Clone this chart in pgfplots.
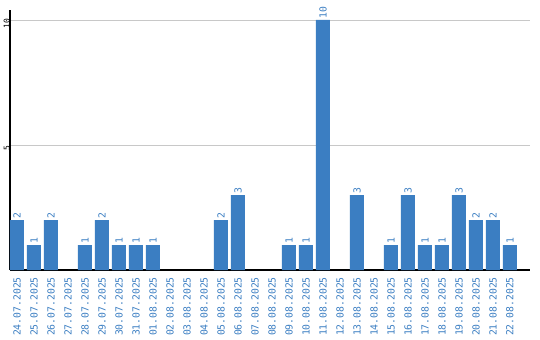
\documentclass[border=0pt]{standalone}
\usepackage{fontspec}
\setmainfont{DejaVu Sans Mono}
\usepackage{pgfplots}
\pgfplotsset{compat=1.18}
\definecolor{barblue}{RGB}{59,126,194}
\definecolor{gridgray}{RGB}{200,200,200}
\begin{document}
\begin{tikzpicture}
\path[use as bounding box] (-10bp,-70bp) rectangle (530bp,270bp);
\begin{axis}[
  at={(0,0)}, anchor=south west,
  scale only axis, width=520bp, height=260bp,
  xmin=-0.41, xmax=30.18, ymin=0, ymax=10.4,
  /pgf/number format/assume math mode=true,
  axis x line*=bottom, axis y line*=left,
  axis line style={black, line width=1.2pt, -},
  ybar, bar width=14bp, bar shift=0pt,
  xtick={0,...,29},
  xticklabels={24.07.2025,25.07.2025,26.07.2025,27.07.2025,28.07.2025,29.07.2025,30.07.2025,31.07.2025,01.08.2025,02.08.2025,03.08.2025,04.08.2025,05.08.2025,06.08.2025,07.08.2025,08.08.2025,09.08.2025,10.08.2025,11.08.2025,12.08.2025,13.08.2025,14.08.2025,15.08.2025,16.08.2025,17.08.2025,18.08.2025,19.08.2025,20.08.2025,21.08.2025,22.08.2025},
  x tick label style={rotate=90, anchor=east, text=barblue, font=\fontsize{9.8}{10}\selectfont, inner sep=0pt, xshift=-7bp},
  ytick={5,10},
  y tick label style={rotate=90, anchor=south, font=\fontsize{8}{9}\selectfont, inner sep=0pt, xshift=-3.5bp},
  major tick length=0pt,
  ymajorgrids, grid style={gridgray, line width=0.8pt},
  restrict y to domain=0.5:100,
  nodes near coords={\pgfmathprintnumber[assume math mode=true]{\pgfplotspointmeta}},
  nodes near coords style={rotate=90, anchor=west, text=barblue, font=\fontsize{9.8}{10}\selectfont, inner sep=1.5pt},
]
\addplot[fill=barblue, draw=none] coordinates {
(0,2) (1,1) (2,2) (3,0) (4,1) (5,2) (6,1) (7,1) (8,1) (9,0)
(10,0) (11,0) (12,2) (13,3) (14,0) (15,0) (16,1) (17,1) (18,10) (19,0)
(20,3) (21,0) (22,1) (23,3) (24,1) (25,1) (26,3) (27,2) (28,2) (29,1)
};
\end{axis}
\end{tikzpicture}
\end{document}
